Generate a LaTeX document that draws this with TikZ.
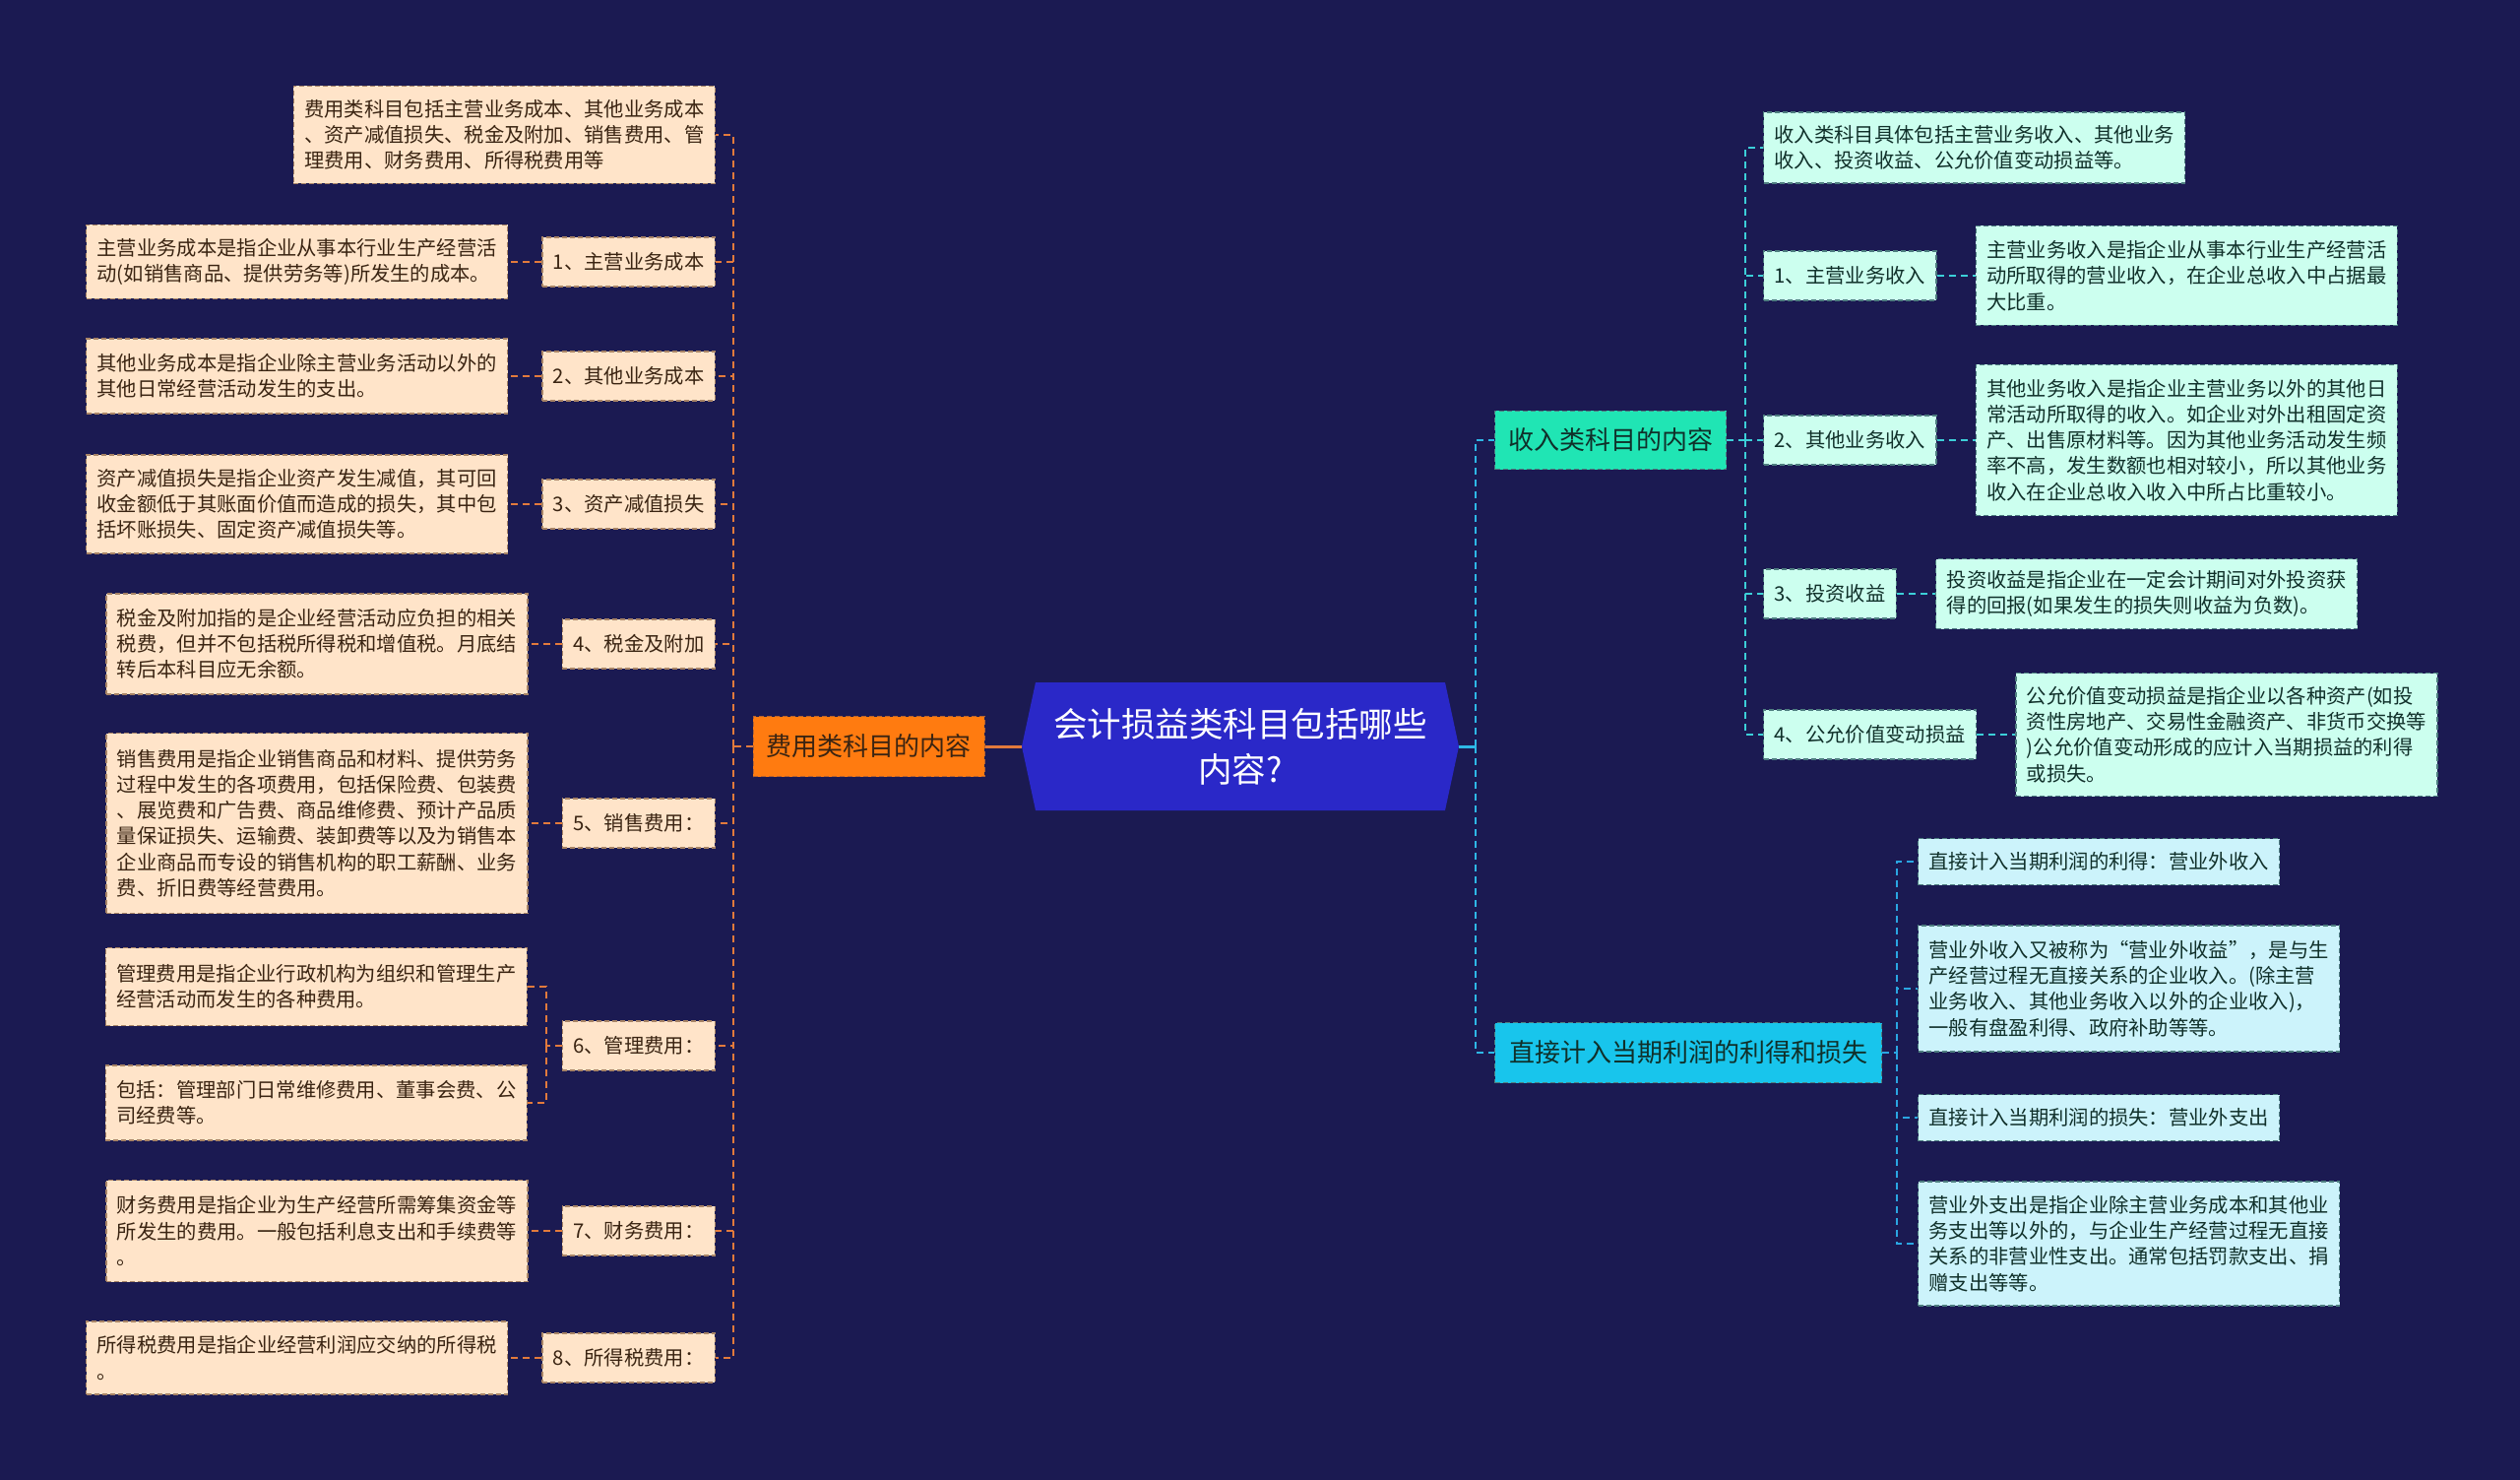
\documentclass[tikz,border=0pt]{standalone}
\usepackage{fontspec}
\setmainfont{Noto Sans CJK SC}
\usetikzlibrary{positioning}
\definecolor{bg}{HTML}{1B1A52}
\definecolor{peach}{HTML}{FFE4C9}
\definecolor{peachdraw}{HTML}{A88466}
\definecolor{browntext}{HTML}{3A2412}
\definecolor{mint}{HTML}{CCFFEF}
\definecolor{ice}{HTML}{CCF3FB}
\definecolor{mintdraw}{HTML}{4E7E80}
\definecolor{darktext}{HTML}{10302A}
\definecolor{orangemain}{HTML}{FF7B10}
\definecolor{orangeline}{HTML}{E27A3C}
\definecolor{tealmain}{HTML}{20E5B4}
\definecolor{skymain}{HTML}{18C5EC}
\definecolor{rootblue}{HTML}{2A28C8}
\definecolor{trunkc}{HTML}{2EB8E6}
\definecolor{branchone}{HTML}{3CCFD8}
\definecolor{branchtwo}{HTML}{2AA6E2}
\tikzset{
  boxbase/.style={dash pattern=on 5pt off 3pt, line width=1.3pt, inner ysep=0pt, align=left,
    font=\fontsize{20.3}{26.2}\selectfont},
  ldesc/.style={boxbase, fill=peach, draw=peachdraw, text=browntext, text width=406pt, inner xsep=11pt},
  llab/.style={boxbase, fill=peach, draw=peachdraw, text=browntext, inner xsep=11pt, minimum height=50pt},
  rdesc/.style={boxbase, fill=mint, draw=mintdraw, text=darktext, text width=406pt, inner xsep=11pt},
  rlab/.style={boxbase, fill=mint, draw=mintdraw, text=darktext, inner xsep=11pt, minimum height=50pt},
  cdesc/.style={boxbase, fill=ice, draw=mintdraw, text=darktext, text width=406pt, inner xsep=11pt},
  clab/.style={boxbase, fill=ice, draw=mintdraw, text=darktext, inner xsep=11pt, minimum height=47pt},
  mainbox/.style={dash pattern=on 5pt off 3pt, line width=1.3pt, inner xsep=13.5pt, inner ysep=0pt,
    minimum height=61pt, font=\fontsize{26}{32}\selectfont},
  oline/.style={draw=orangeline, line width=1.8pt, dash pattern=on 7pt off 5pt},
  tline/.style={draw=trunkc, line width=1.8pt, dash pattern=on 7pt off 5pt},
  bonel/.style={draw=branchone, line width=1.8pt, dash pattern=on 7pt off 5pt},
  btwol/.style={draw=branchtwo, line width=1.8pt, dash pattern=on 7pt off 5pt},
}
\begin{document}
\begin{tikzpicture}[x=1pt,y=-1pt,node distance=34pt]
\fill[bg] (0,0) rectangle (2560,1503);
\useasboundingbox (0,0) rectangle (2560,1503);

% root
\fill[rootblue] (1038,758) -- (1052,693) -- (1468,693) -- (1482,758) -- (1468,823) -- (1052,823) -- cycle;
\node[minimum width=444pt, minimum height=130pt, inner sep=0pt, text=white, align=center,
  font=\fontsize{34.5}{46}\selectfont] (root) at (1260,758) {会计损益类科目包括哪些\\内容?};

% left main
\node[mainbox, fill=orangemain, draw=orangeline!80!black, text=browntext, anchor=east] (om) at (1001,758) {费用类科目的内容};

% left children
\node[ldesc, anchor=east, minimum height=99pt] (a) at (727,137) {费用类科目包括主营业务成本、其他业务成本\\、资产减值损失、税金及附加、销售费用、管\\理费用、财务费用、所得税费用等};
\node[llab, anchor=east] (l1) at (727,266) {1、主营业务成本};
\node[llab, anchor=east] (l2) at (727,382) {2、其他业务成本};
\node[llab, anchor=east] (l3) at (727,512) {3、资产减值损失};
\node[llab, anchor=east] (l4) at (727,654) {4、税金及附加};
\node[llab, anchor=east] (l5) at (727,836) {5、销售费用：};
\node[llab, anchor=east] (l6) at (727,1062) {6、管理费用：};
\node[llab, anchor=east] (l7) at (727,1250) {7、财务费用：};
\node[llab, anchor=east] (l8) at (727,1379) {8、所得税费用：};

\node[ldesc, minimum height=75pt, left=of l1] (d1) {主营业务成本是指企业从事本行业生产经营活\\动(如销售商品、提供劳务等)所发生的成本。};
\node[ldesc, minimum height=76pt, left=of l2] (d2) {其他业务成本是指企业除主营业务活动以外的\\其他日常经营活动发生的支出。};
\node[ldesc, minimum height=100pt, left=of l3] (d3) {资产减值损失是指企业资产发生减值，其可回\\收金额低于其账面价值而造成的损失，其中包\\括坏账损失、固定资产减值损失等。};
\node[ldesc, minimum height=102pt, left=of l4] (d4) {税金及附加指的是企业经营活动应负担的相关\\税费，但并不包括税所得税和增值税。月底结\\转后本科目应无余额。};
\node[ldesc, minimum height=183pt, left=of l5] (d5) {销售费用是指企业销售商品和材料、提供劳务\\过程中发生的各项费用，包括保险费、包装费\\、展览费和广告费、商品维修费、预计产品质\\量保证损失、运输费、装卸费等以及为销售本\\企业商品而专设的销售机构的职工薪酬、业务\\费、折旧费等经营费用。};
\node[ldesc, minimum height=79pt, anchor=east] (d6a) at (536,1002) {管理费用是指企业行政机构为组织和管理生产\\经营活动而发生的各种费用。};
\node[ldesc, minimum height=76pt, anchor=east] (d6b) at (536,1120) {包括：管理部门日常维修费用、董事会费、公\\司经费等。};
\node[ldesc, minimum height=103pt, left=of l7] (d7) {财务费用是指企业为生产经营所需筹集资金等\\所发生的费用。一般包括利息支出和手续费等\\。};
\node[ldesc, minimum height=74pt, left=of l8] (d8) {所得税费用是指企业经营利润应交纳的所得税\\。};

\coordinate (lb) at (745,758);
\coordinate (l6b) at (555,1062);
\draw[orangeline, line width=3pt] (om.east) -- (root.west);
\draw[oline] (om.west) -- (lb);
\foreach \n in {a,l1,l2,l3,l4,l5,l6,l7,l8} \draw[oline] (lb) |- (\n.east);
\foreach \n in {1,2,3,4,5,7,8} \draw[oline] (l\n.west) -- (d\n.east);
\draw[oline] (l6.west) -- (l6b);
\draw[oline] (l6b) |- (d6a.east);
\draw[oline] (l6b) |- (d6b.east);

% right mains
\node[mainbox, fill=tealmain, draw=mintdraw, text=darktext, anchor=west, minimum height=59pt] (m1) at (1518,447) {收入类科目的内容};
\node[mainbox, fill=skymain, draw=mintdraw, text=darktext, anchor=west, inner xsep=14.5pt] (m2) at (1518,1069) {直接计入当期利润的利得和损失};

% branch 1
\node[rdesc, anchor=west, minimum height=72pt] (b) at (1791,150) {收入类科目具体包括主营业务收入、其他业务\\收入、投资收益、公允价值变动损益等。};
\node[rlab, anchor=west] (r1) at (1791,280) {1、主营业务收入};
\node[rlab, anchor=west] (r2) at (1791,447) {2、其他业务收入};
\node[rlab, anchor=west] (r3) at (1791,603) {3、投资收益};
\node[rlab, anchor=west] (r4) at (1791,746) {4、公允价值变动损益};
\node[rdesc, minimum height=101pt, right=39pt of r1] (e1) {主营业务收入是指企业从事本行业生产经营活\\动所取得的营业收入，在企业总收入中占据最\\大比重。};
\node[rdesc, minimum height=153pt, right=39pt of r2] (e2) {其他业务收入是指企业主营业务以外的其他日\\常活动所取得的收入。如企业对外出租固定资\\产、出售原材料等。因为其他业务活动发生频\\率不高，发生数额也相对较小，所以其他业务\\收入在企业总收入收入中所占比重较小。};
\node[rdesc, minimum height=71pt, right=39pt of r3] (e3) {投资收益是指企业在一定会计期间对外投资获\\得的回报(如果发生的损失则收益为负数)。};
\node[rdesc, minimum height=125pt, right=39pt of r4] (e4) {公允价值变动损益是指企业以各种资产(如投\\资性房地产、交易性金融资产、非货币交换等\\)公允价值变动形成的应计入当期损益的利得\\或损失。};

% branch 2
\node[clab, anchor=west] (c1) at (1948,875) {直接计入当期利润的利得：营业外收入};
\node[cdesc, anchor=west, minimum height=128pt] (c2) at (1948,1004) {营业外收入又被称为“营业外收益”，是与生\\产经营过程无直接关系的企业收入。(除主营\\业务收入、其他业务收入以外的企业收入)，\\一般有盘盈利得、政府补助等等。};
\node[clab, anchor=west] (c3) at (1948,1135) {直接计入当期利润的损失：营业外支出};
\node[cdesc, anchor=west, minimum height=126pt] (c4) at (1948,1263) {营业外支出是指企业除主营业务成本和其他业\\务支出等以外的，与企业生产经营过程无直接\\关系的非营业性支出。通常包括罚款支出、捐\\赠支出等等。};

\coordinate (rt) at (1499,758);
\coordinate (rb1) at (1773,447);
\coordinate (rb2) at (1927,1069);
\draw[trunkc, line width=3pt] (root.east) -- (rt);
\draw[tline] (rt) |- (m1.west);
\draw[tline] (rt) |- (m2.west);
\draw[bonel] (m1.east) -- (rb1);
\foreach \n in {b,r1,r2,r3,r4} \draw[bonel] (rb1) |- (\n.west);
\foreach \n in {1,2,3,4} \draw[bonel] (r\n.east) -- (e\n.west);
\draw[btwol] (m2.east) -- (rb2);
\foreach \n in {c1,c2,c3,c4} \draw[btwol] (rb2) |- (\n.west);
\end{tikzpicture}
\end{document}
